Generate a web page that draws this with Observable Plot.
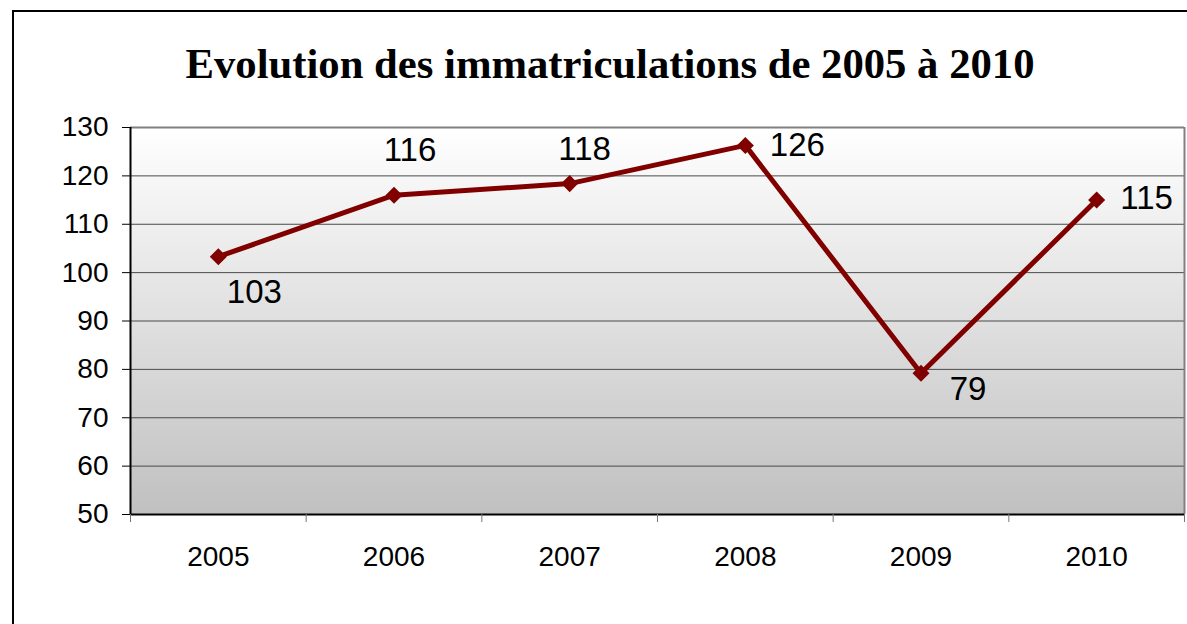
<!DOCTYPE html>
<html><head><meta charset="utf-8">
<script src="https://cdn.jsdelivr.net/npm/d3@7"></script>
<script src="https://cdn.jsdelivr.net/npm/@observablehq/plot@0.6"></script>
<style>
html,body{margin:0;padding:0;background:#fff;overflow:hidden;width:1187px;height:624px;position:relative;}
#frame{position:absolute;left:12px;top:10px;width:1300px;height:800px;border:2px solid #000;box-sizing:border-box;}
#chart{position:absolute;left:0;top:0;}
#title{position:absolute;left:0;width:1220px;top:42px;text-align:center;font-family:"Liberation Serif","Times New Roman",serif;font-weight:bold;font-size:42.7px;line-height:43px;color:#000;white-space:nowrap;}
</style>
</head><body>
<div id="frame"></div>
<div id="chart"></div>
<div id="title"></div>
<script>
const title = "Evolution des immatriculations de 2005 à 2010";
const years = [2005, 2006, 2007, 2008, 2009, 2010];
const values = [103.3, 116.0, 118.4, 126.3, 79.2, 115.0];
const yTicks = [50, 60, 70, 80, 90, 100, 110, 120, 130];

const data = years.map((year, i) => ({year, value: values[i]}));
const bounds = [...years.map(y => y - 0.5), years[years.length - 1] + 0.5];
const font = "'Liberation Sans', Arial, sans-serif";
// label offsets (dx, dy) per point, like the Excel data-label placement
const labelPlacement = {2005: [36, 36], 2006: [16, -45], 2007: [15, -34], 2008: [52, 0], 2009: [47, 16], 2010: [50, -2]};
const fmt = d3.format(".0f");

document.getElementById("title").textContent = title;

const chart = Plot.plot({
  width: 1187, height: 624,
  marginLeft: 130, marginRight: 3, marginTop: 127, marginBottom: 110,
  style: {fontFamily: font, background: "transparent", overflow: "visible"},
  x: {type: "linear", domain: [bounds[0], bounds[bounds.length - 1]]},
  y: {domain: [yTicks[0], yTicks[yTicks.length - 1]]},
  marks: [
    Plot.frame({fill: "url(#bg)", stroke: null}),
    Plot.gridY(yTicks, {stroke: "#4a4a4a", strokeOpacity: 1, strokeWidth: 1}),
    Plot.ruleY([yTicks[yTicks.length - 1]], {stroke: "#808080", strokeWidth: 2}),
    Plot.ruleX([bounds[bounds.length - 1]], {stroke: "#808080", strokeWidth: 2}),
    Plot.ruleX([bounds[0]], {stroke: "#000", strokeWidth: 2}),
    Plot.ruleY([yTicks[0]], {stroke: "#000", strokeWidth: 2}),
    Plot.axisY(yTicks, {tickSize: 8, tickPadding: 14, fontSize: 28, stroke: "#000", fill: "#000", label: null, tickFormat: d => String(d)}),
    Plot.axisX(bounds, {tickSize: 8, tickFormat: () => "", stroke: "#777", label: null}),
    Plot.axisX(years, {tickSize: 0, tickPadding: 32, fontSize: 28, fill: "#000", label: null, tickFormat: d => String(d)}),
    Plot.line(data, {x: "year", y: "value", stroke: "#800000", strokeWidth: 5}),
    Plot.dot(data, {x: "year", y: "value", symbol: "square", r: 6.8, rotate: 45, fill: "#800000", stroke: null}),
    ...years.map(yr => Plot.text(data, {
      filter: d => d.year === yr, x: "year", y: "value", text: d => fmt(d.value),
      dx: labelPlacement[yr][0], dy: labelPlacement[yr][1], fontSize: 33, fill: "#000"
    }))
  ]
});

const defs = d3.select(chart).insert("defs", ":first-child");
const g = defs.append("linearGradient").attr("id", "bg").attr("x1", 0).attr("y1", 0).attr("x2", 0).attr("y2", 1);
g.append("stop").attr("offset", "0%").attr("stop-color", "#ffffff");
g.append("stop").attr("offset", "100%").attr("stop-color", "#c0c0c0");

document.getElementById("chart").appendChild(chart);
</script>
</body></html>
